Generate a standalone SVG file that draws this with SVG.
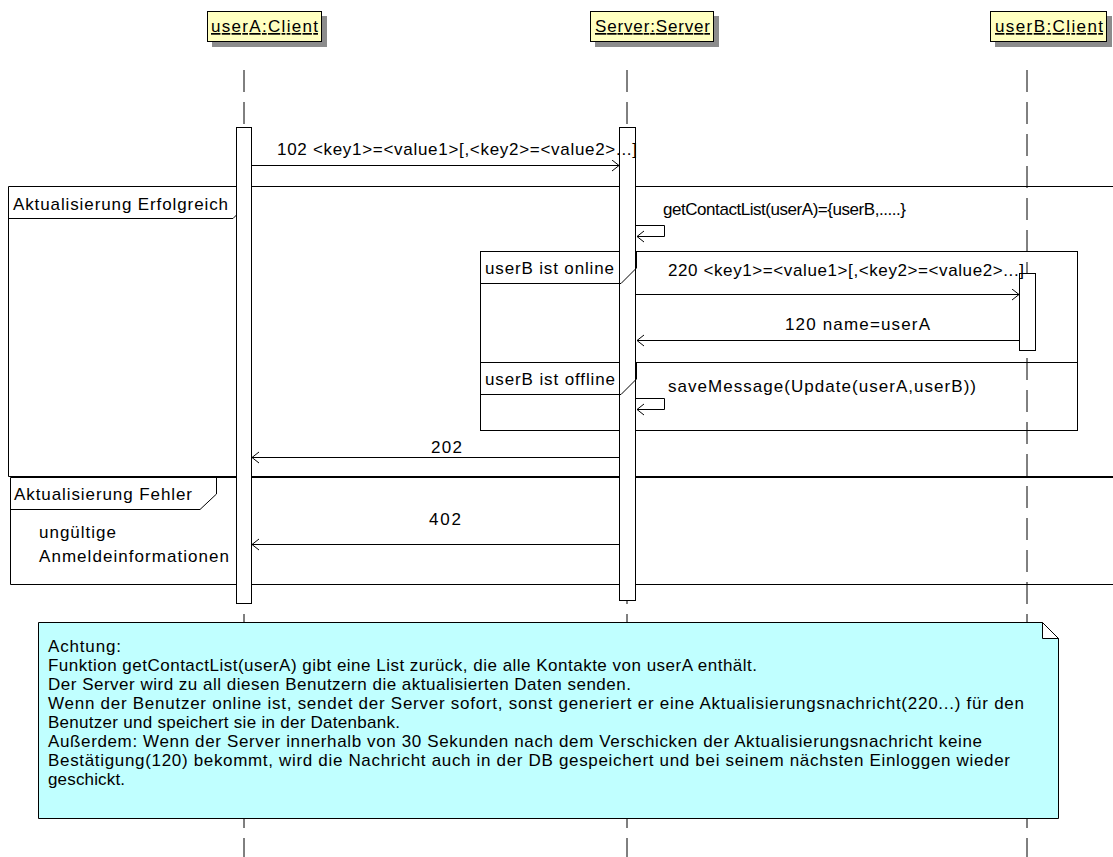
<svg xmlns="http://www.w3.org/2000/svg" width="1113" height="857" viewBox="0 0 1113 857">
  <style>
    .t { font-family: "Liberation Sans", Arial, sans-serif; font-size: 17px; fill: #000; }
    .u { text-decoration: underline; }
    .ln { fill: none; stroke: #000; stroke-width: 1; }
    .life { fill: none; stroke: #000; stroke-width: 1; stroke-dasharray: 22 10; }
    .head { fill: #ffffc0; stroke: #000; stroke-width: 1; }
    .shadow { fill: #8c8c8c; stroke: none; }
    .act { fill: #fff; stroke: #000; stroke-width: 1; }
    .msg { fill: none; stroke: #000; stroke-width: 1; marker-end: url(#open); }
    .note { fill: #c0ffff; stroke: #000; stroke-width: 1; }
  </style>
  <defs>
    <marker id="open" markerWidth="10" markerHeight="13" refX="8" refY="6" orient="auto" markerUnits="userSpaceOnUse">
      <path d="M1,0.5 L8,6 L1,11.5" fill="none" stroke="#000" stroke-width="1"/>
    </marker>
  </defs>
  <rect width="1113" height="857" fill="#fff"/>

  <!-- combined fragment: Aktualisierung Erfolgreich / Aktualisierung Fehler -->
  <g id="frame-alt">
    <path class="ln" d="M1120,186.5 H8.5 V476.5 H1120"/>
    <path class="ln" d="M1120,477.5 H10.5 V584.5 H1120"/>
    <text class="t" x="13" y="210" textLength="215" lengthAdjust="spacing">Aktualisierung Erfolgreich</text>
    <path class="ln" d="M8.5,218.5 H233 L236.5,215 V186.5"/>
    <path class="ln" d="M10.5,509.5 H200 L216.5,494 V477.5"/>
    <text class="t" x="14" y="500" textLength="178" lengthAdjust="spacing">Aktualisierung Fehler</text>
    <text class="t" x="39" y="538" textLength="77" lengthAdjust="spacing">ungültige</text>
    <text class="t" x="39" y="562" textLength="190" lengthAdjust="spacing">Anmeldeinformationen</text>
  </g>

  <!-- nested fragment: userB online / offline -->
  <g id="frame-userB">
    <rect class="ln" x="480.5" y="251.5" width="597" height="179"/>
    <line class="ln" x1="480" y1="362.5" x2="1077" y2="362.5"/>
  </g>

  <!-- participants -->
  <g id="userA">
    <rect class="shadow" x="212" y="16" width="115" height="31"/>
    <rect class="head" x="207.5" y="11.5" width="114" height="30"/>
    <text class="t u" x="211" y="32" textLength="107" lengthAdjust="spacing">userA:Client</text>
    <line class="life" x1="244" y1="70" x2="244" y2="857"/>
    <rect class="act" x="236.5" y="127.5" width="15" height="476"/>
  </g>
  <g id="server">
    <rect class="shadow" x="595" y="16" width="124" height="31"/>
    <rect class="head" x="590.5" y="11.5" width="123" height="30"/>
    <text class="t u" x="595" y="32" textLength="115" lengthAdjust="spacing">Server:Server</text>
    <line class="life" x1="627" y1="70" x2="627" y2="857"/>
    <rect class="act" x="619.5" y="127.5" width="16" height="473"/>
  </g>
  <g id="userB">
    <rect class="shadow" x="995" y="16" width="117" height="31"/>
    <rect class="head" x="990.5" y="11.5" width="116" height="30"/>
    <text class="t u" x="995" y="32" textLength="108" lengthAdjust="spacing">userB:Client</text>
    <line class="life" x1="1027" y1="70" x2="1027" y2="857"/>
    <rect class="act" x="1019.5" y="273.5" width="16" height="77"/>
  </g>

  <!-- operand labels of the nested fragment -->
  <g id="frame-userB-labels">
    <path class="ln" d="M480.5,283.5 H621 L636.5,268 V251.5"/>
    <text class="t" x="485" y="274" textLength="129" lengthAdjust="spacing">userB ist online</text>
    <path class="ln" d="M480.5,394.5 H621 L636.5,379 V362.5"/>
    <text class="t" x="485" y="385" textLength="130" lengthAdjust="spacing">userB ist offline</text>
  </g>

  <!-- messages -->
  <g id="connectors">
    <line class="msg" x1="252" y1="165.5" x2="619" y2="165.5"/>
    <text class="t" x="277" y="155" textLength="360" lengthAdjust="spacing">102 &lt;key1&gt;=&lt;value1&gt;[,&lt;key2&gt;=&lt;value2&gt;...]</text>

    <path class="msg" d="M636,225.5 H664.5 V236.5 H637"/>
    <text class="t" x="663" y="215" textLength="243" lengthAdjust="spacing">getContactList(userA)={userB,.....}</text>

    <line class="msg" x1="636" y1="294.5" x2="1019" y2="294.5"/>
    <text class="t" x="668" y="276" textLength="356" lengthAdjust="spacing">220 &lt;key1&gt;=&lt;value1&gt;[,&lt;key2&gt;=&lt;value2&gt;...]</text>

    <line class="msg" x1="1019" y1="340.5" x2="637" y2="340.5"/>
    <text class="t" x="785" y="330" textLength="145" lengthAdjust="spacing">120 name=userA</text>

    <path class="msg" d="M636,398.5 H664.5 V409.5 H637"/>
    <text class="t" x="668" y="392" textLength="308" lengthAdjust="spacing">saveMessage(Update(userA,userB))</text>

    <line class="msg" x1="619" y1="457.5" x2="252" y2="457.5"/>
    <text class="t" x="431" y="453" textLength="31" lengthAdjust="spacing">202</text>

    <line class="msg" x1="619" y1="544.5" x2="252" y2="544.5"/>
    <text class="t" x="429" y="525" textLength="32" lengthAdjust="spacing">402</text>
  </g>

  <!-- comment note -->
  <g id="note">
    <path class="note" d="M38.5,622.5 H1042.5 L1058.5,638.5 V818.5 H38.5 Z"/>
    <path d="M1042.5,622.5 L1058.5,638.5 H1042.5 Z" fill="#fff" stroke="#000" stroke-width="1"/>
    <text class="t" x="48" y="652" textLength="73" lengthAdjust="spacing">Achtung:</text>
    <text class="t" x="48" y="671" textLength="709" lengthAdjust="spacing">Funktion getContactList(userA) gibt eine List zurück, die alle Kontakte von userA enthält.</text>
    <text class="t" x="48" y="690" textLength="583" lengthAdjust="spacing">Der Server wird zu all diesen Benutzern die aktualisierten Daten senden.</text>
    <text class="t" x="48" y="709" textLength="976" lengthAdjust="spacing">Wenn der Benutzer online ist, sendet der Server sofort, sonst generiert er eine Aktualisierungsnachricht(220...) für den</text>
    <text class="t" x="48" y="728" textLength="352" lengthAdjust="spacing">Benutzer und speichert sie in der Datenbank.</text>
    <text class="t" x="48" y="747" textLength="934" lengthAdjust="spacing">Außerdem: Wenn der Server innerhalb von 30 Sekunden nach dem Verschicken der Aktualisierungsnachricht keine</text>
    <text class="t" x="48" y="766" textLength="962" lengthAdjust="spacing">Bestätigung(120) bekommt, wird die Nachricht auch in der DB gespeichert und bei seinem nächsten Einloggen wieder</text>
    <text class="t" x="48" y="785" textLength="77" lengthAdjust="spacing">geschickt.</text>
  </g>
</svg>
